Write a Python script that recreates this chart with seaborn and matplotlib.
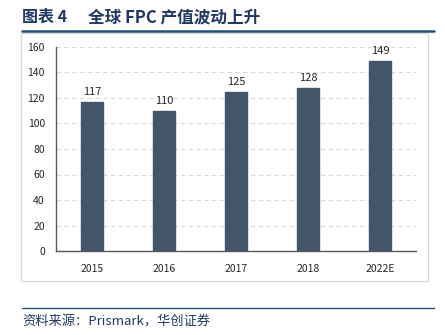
import matplotlib
matplotlib.use("Agg")
import matplotlib.pyplot as plt
import matplotlib.patches as mpatches
import matplotlib.lines as mlines
import seaborn as sns
import pandas as pd

years = ["2015", "2016", "2017", "2018", "2022E"]
output_value = [117, 110, 125, 128, 149]
y_ticks = [0, 20, 40, 60, 80, 100, 120, 140, 160]

title_label = "图表 4"
title_text = "全球 FPC 产值波动上升"
source_text = "资料来源：Prismark，华创证券"

sns.set_theme(style="white")
plt.rcParams["font.family"] = ["Noto Sans CJK SC", "DejaVu Sans"]

df = pd.DataFrame({"year": years, "value": output_value})

W, H = 445, 335
fig = plt.figure(figsize=(W / 100, H / 100), dpi=100)

# outer frame around the chart area
fig.add_artist(mpatches.Rectangle((21 / W, 1 - 281 / H), (428 - 21) / W, (281 - 33) / H,
                                  transform=fig.transFigure, fill=False,
                                  edgecolor="#d9d9d9", linewidth=0.9))
# header and footer rules
fig.add_artist(mlines.Line2D([22 / W, 434 / W], [1 - 30.5 / H] * 2, transform=fig.transFigure,
                             color="#1F4E79", linewidth=1.8))
fig.add_artist(mlines.Line2D([22 / W, 434 / W], [1 - 308 / H] * 2, transform=fig.transFigure,
                             color="#1F4E79", linewidth=1.0))

fig.text(22 / W, 1 - 17 / H, title_label, fontsize=11.5, fontweight="bold",
         color="#1F3864", va="center", ha="left")
fig.text(88 / W, 1 - 17 / H, title_text, fontsize=12, fontweight="bold",
         color="#1F3864", va="center", ha="left")
fig.text(22 / W, 1 - 322 / H, source_text, fontsize=9.5, style="italic",
         color="#1F3864", va="center", ha="left")

ax = fig.add_axes([56 / W, 1 - 251 / H, (416 - 56) / W, (251 - 47) / H])
sns.barplot(data=df, x="year", y="value", ax=ax, color="#44546A", width=0.3,
            saturation=1, edgecolor="#44546A")

ax.set_ylim(0, 160)
ax.set_yticks(y_ticks)
ax.set_xlim(-0.5, len(years) - 0.5)
ax.set_xlabel("")
ax.set_ylabel("")
ax.yaxis.grid(True, linestyle=(0, (4, 3)), color="#d9d9d9", linewidth=0.8)
ax.set_axisbelow(True)
for s in ["top", "right"]:
    ax.spines[s].set_visible(False)
for s in ["left", "bottom"]:
    ax.spines[s].set_color("#595959")
    ax.spines[s].set_linewidth(1.0)
ax.tick_params(axis="both", length=0, labelsize=7.5, colors="#262626", pad=8)
ax.tick_params(axis="x", pad=9)

for i, v in enumerate(output_value):
    ax.text(i, v + 4, f"{v}", ha="center", va="bottom", fontsize=8, color="#262626")

fig.savefig("out.png", dpi=100)
